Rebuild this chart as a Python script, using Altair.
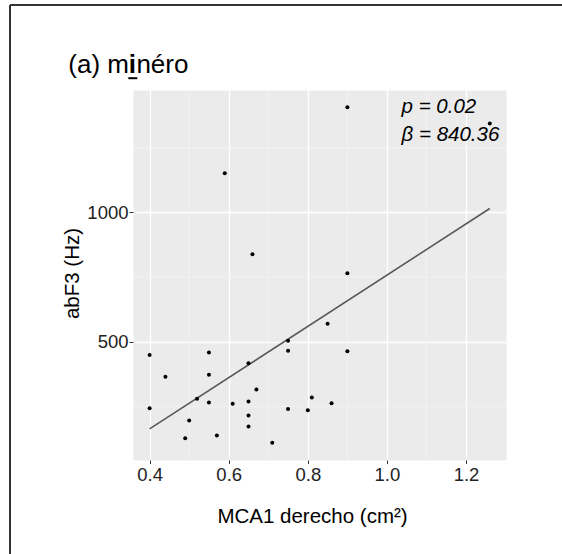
import altair as alt
import pandas as pd

# ---- data ----
mca1 = [0.40, 0.55, 0.44, 0.55, 0.65, 0.67, 0.52, 0.40, 0.55, 0.61,
        0.65, 0.50, 0.65, 0.65, 0.49, 0.57, 0.71, 0.75, 0.75, 0.85,
        0.90, 0.81, 0.75, 0.80, 0.86, 0.90, 0.90, 1.26, 0.59, 0.66]
abf3 = [449, 458, 365, 372, 417, 315, 280, 243, 265, 260,
        269, 196, 215, 172, 127, 138, 110, 504, 465, 570,
        463, 285, 240, 235, 262, 1406, 765, 1344, 1151, 838]

fit_x = [0.40, 1.26]
fit_y = [163, 1015]

x_major = [0.4, 0.6, 0.8, 1.0, 1.2]
x_minor = [0.5, 0.7, 0.9, 1.1]
y_major = [500, 1000]
y_minor = [250, 750, 1250]

stats_text = ["p = 0.02", "β = 840.36"]
stats_x = [1.037, 1.037]
stats_y = [1383, 1277]

title_parts = ["(a) m", "i", "néro"]

X_DOM = [0.358, 1.301]
Y_DOM = [43, 1473]

FONT = "Liberation Sans"

pts = pd.DataFrame({"mca1": mca1, "abf3": abf3})
fit = pd.DataFrame({"mca1": fit_x, "abf3": fit_y})
xmin = pd.DataFrame({"mca1": x_minor})
ymin = pd.DataFrame({"abf3": y_minor})
stats = pd.DataFrame({"mca1": stats_x, "abf3": stats_y, "t": stats_text})
one = pd.DataFrame({"d": [0]})

xs = alt.Scale(domain=X_DOM, nice=False, zero=False)
ys = alt.Scale(domain=Y_DOM, nice=False, zero=False)

x_axis = alt.Axis(values=x_major, format=".1f", labelFontSize=18.5, labelColor="#222",
                  tickSize=3.5, tickColor="#333", tickWidth=1, labelPadding=1.5,
                  domain=False, grid=True, gridColor="white", gridWidth=1.3,
                  title="MCA1 derecho (cm²)", titleFontSize=20.5, titleFontWeight="normal",
                  titleColor="black", titleX=179, titleY=62, titleBaseline="alphabetic",
                  labelFlush=False)
y_axis = alt.Axis(values=y_major, format="d", labelFontSize=18.5, labelColor="#222",
                  tickSize=4, tickColor="#333", tickWidth=1, labelPadding=1,
                  domain=False, grid=True, gridColor="white", gridWidth=1.3,
                  title="abF3 (Hz)", titleFontSize=20.5, titleFontWeight="normal",
                  titleColor="black", titleX=-55, titleY=183, titleAngle=270,
                  titleBaseline="alphabetic", labelFlush=False)

X = alt.X("mca1:Q", scale=xs, axis=x_axis)
Y = alt.Y("abf3:Q", scale=ys, axis=y_axis)

minor_x = alt.Chart(xmin).mark_rule(color="#F4F4F4", strokeWidth=0.8).encode(x=X)
minor_y = alt.Chart(ymin).mark_rule(color="#F4F4F4", strokeWidth=0.8).encode(y=Y)

line = alt.Chart(fit).mark_line(color="#595959", strokeWidth=1.6).encode(x=X, y=Y)

points = alt.Chart(pts).mark_circle(color="black", size=16, opacity=1).encode(x=X, y=Y)

stat_text = alt.Chart(stats).mark_text(align="left", baseline="alphabetic", fontSize=20.5,
                                       fontStyle="italic", color="black").encode(
    x=X, y=Y, text="t:N")

t1 = alt.Chart(pd.DataFrame({"t": [title_parts[0]]})).mark_text(
    align="left", baseline="alphabetic", fontSize=26, color="black").encode(
    x=alt.value(-64.7), y=alt.value(-16.7), text="t:N")
t2 = alt.Chart(pd.DataFrame({"t": [title_parts[1]]})).mark_text(
    align="left", baseline="alphabetic", fontSize=26, fontWeight="bold", color="black").encode(
    x=alt.value(-4.2), y=alt.value(-16.7), text="t:N")
t3 = alt.Chart(pd.DataFrame({"t": [title_parts[2]]})).mark_text(
    align="left", baseline="alphabetic", fontSize=26, color="black").encode(
    x=alt.value(3.4), y=alt.value(-16.7), text="t:N")
underline = alt.Chart(one).mark_rule(color="black", strokeWidth=2).encode(
    x=alt.value(-4.7), x2=alt.value(4.3), y=alt.value(-11.8))

border_left = alt.Chart(one).mark_rule(color="#333", strokeWidth=2).encode(
    x=alt.value(-123), y=alt.value(-85), y2=alt.value(464))
border_top = alt.Chart(one).mark_rule(color="#333", strokeWidth=2).encode(
    x=alt.value(-123), x2=alt.value(429), y=alt.value(-85))

chart = alt.layer(
    minor_x, minor_y, line, points, stat_text, t1, t2, t3, underline, border_left, border_top
).properties(
    width=373, height=370,
    padding={"left": 133, "top": 90, "right": 56, "bottom": 94},
    autosize=alt.AutoSizeParams(type="none"),
    background="white",
).configure(font=FONT).configure_view(fill="#EBEBEB", stroke="transparent")

chart.save("out.html", embed_options={"renderer": "svg", "actions": False})
